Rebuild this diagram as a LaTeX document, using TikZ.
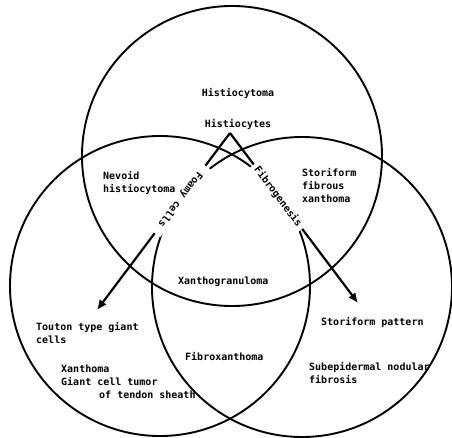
\documentclass[tikz,border=0pt]{standalone}
\usepackage{fontspec}
\setmonofont{DejaVu Sans Mono}
\usetikzlibrary{positioning,arrows.meta}

\begin{document}
\begin{tikzpicture}[x=1pt, y=-1pt,
	ring/.style={circle, draw=black, line width=1.9pt, minimum size=300pt, inner sep=0pt},
	lbl/.style={font=\ttfamily\bfseries\fontsize{10}{12.8}\selectfont, inner sep=0pt, align=left, anchor=base west},
	gap/.style={lbl, anchor=center, fill=white, inner xsep=6pt, inner ysep=2pt},
	route/.style={line width=2.2pt, -{Latex[length=10pt,width=9pt]}}
]
\useasboundingbox (0,0) rectangle (452,437);
% the three circles
\node[ring] (topring) at (232,156) {};
\node[ring] (leftring) at (160,286) {};
\node[ring] (rightring) at (302,287) {};
% labels (base = last line)
\node[lbl, anchor=base] (histiocytoma) at (238,96) {Histiocytoma};
\node[lbl] (histiocytes) [below=21pt of histiocytoma] {Histiocytes};
\coordinate (apex) at (230,133);
\node[lbl] (nevoid) at (103,192) {Nevoid\\histiocytoma};
\node[lbl] (storfibrous) at (302,202) {Storiform\\fibrous\\xanthoma};
\node[lbl] (xanthogran) at (178,284) {Xanthogranuloma};
\node[lbl] (touton) at (36,343) {Touton type giant\\cells};
\node[lbl] (xanthoma) at (61,398) {Xanthoma\\Giant cell tumor\\\hspace*{38pt}of tendon sheath};
\node[lbl] (fibroxan) at (185,360) {Fibroxanthoma};
\node[lbl] (storpattern) at (321,325) {Storiform pattern};
\node[lbl] (subepi) at (309,383) {Subepidermal nodular\\fibrosis};
% the two arrows
\coordinate (foamyend) at (97,310);
\coordinate (fibroend) at (358,303);
\draw[route] (apex) -- node[gap, pos=.375, rotate=233, inner xsep=9pt] (foamy) {Foamy cells} (foamyend);
\draw[route] (apex) -- node[gap, pos=.375, rotate=-53, inner xsep=4pt] (fibro) {Fibrogenesis} (fibroend);
\end{tikzpicture}
\end{document}
